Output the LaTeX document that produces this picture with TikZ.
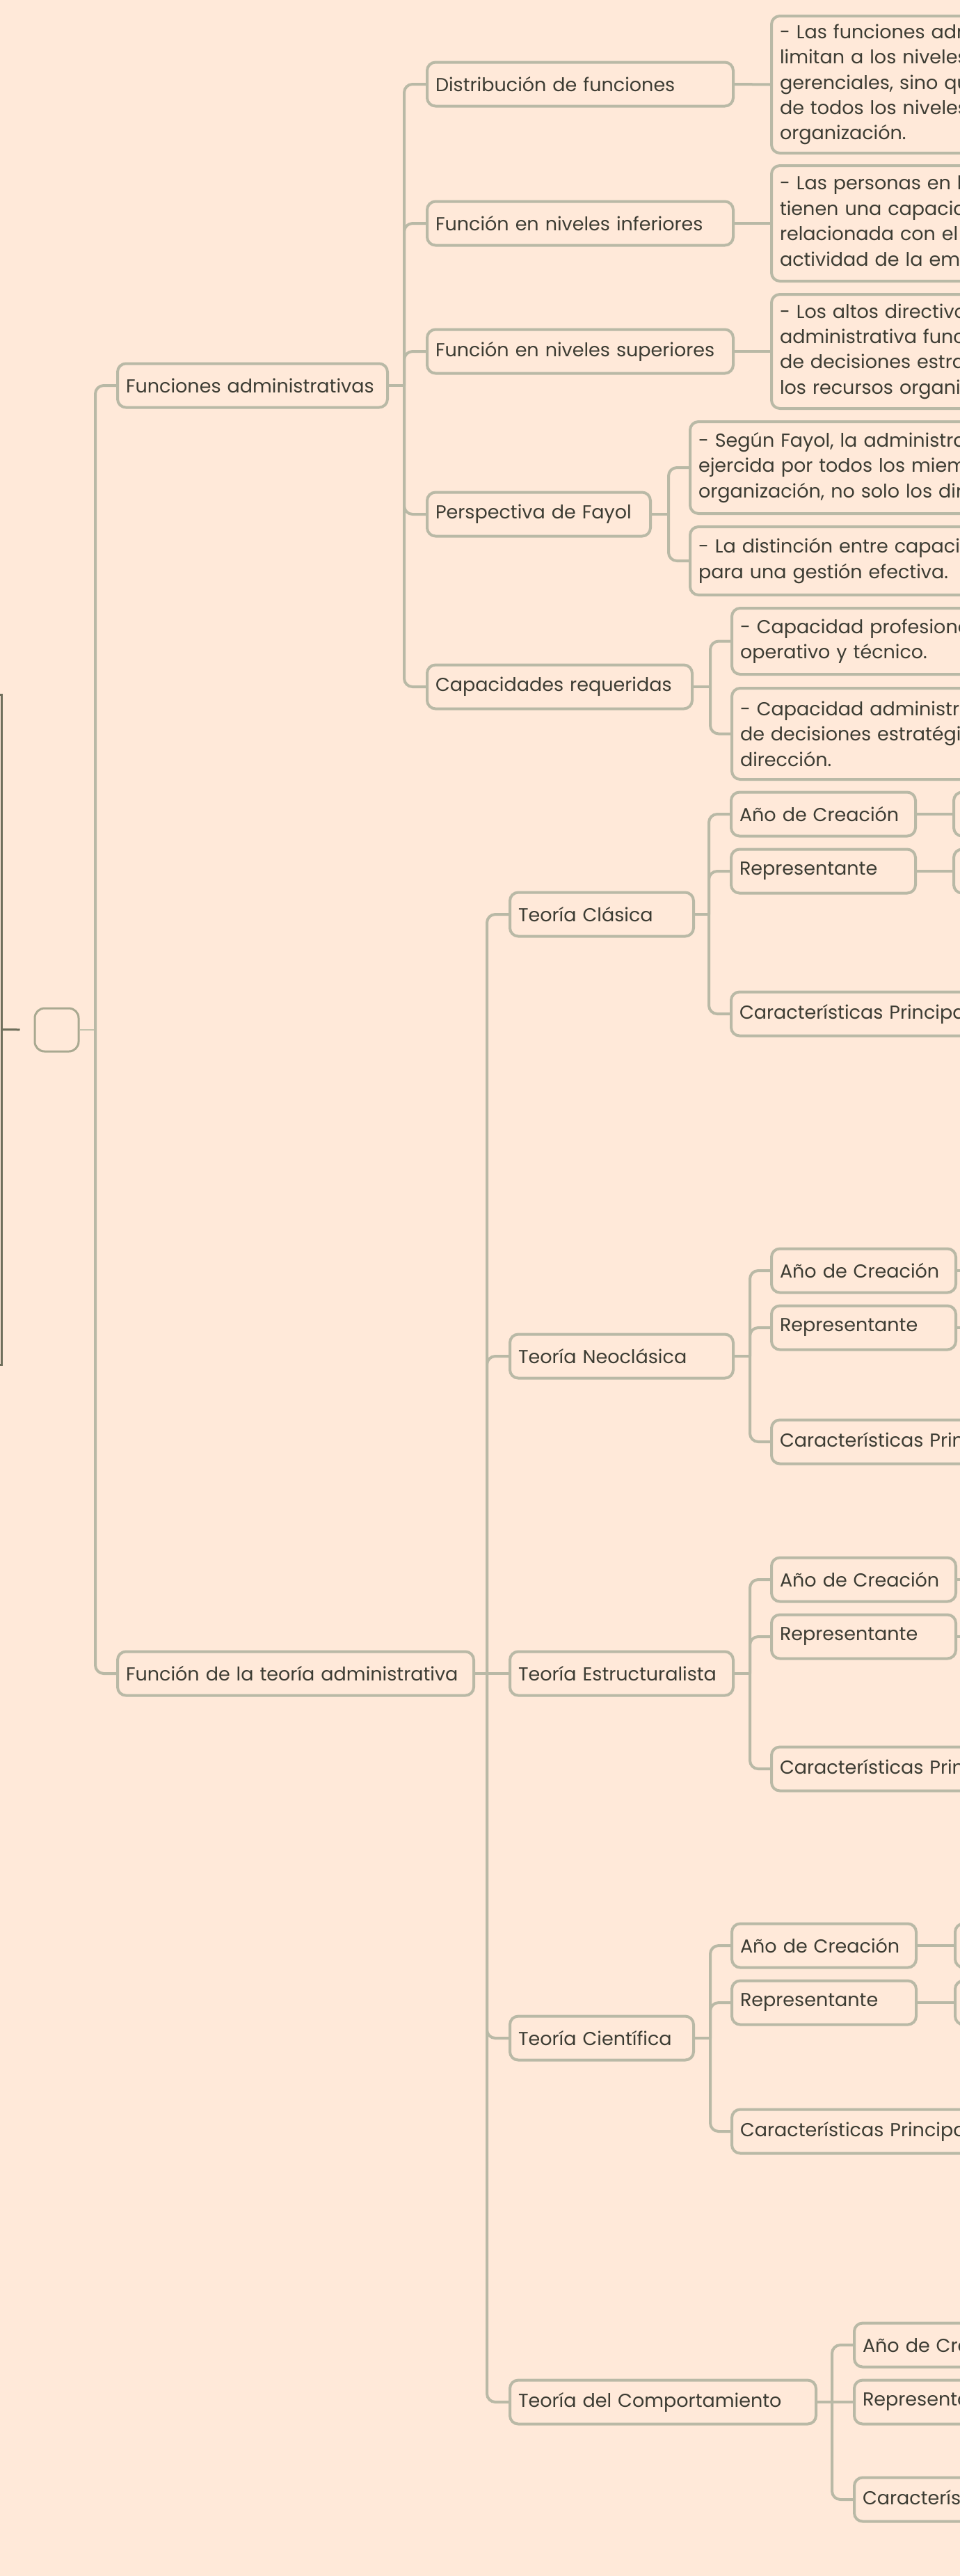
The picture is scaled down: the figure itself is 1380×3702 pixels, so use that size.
\documentclass[tikz,border=0pt]{standalone}
\usepackage{fontspec}
\setmainfont{Poppins}
\usepackage{tikz}
\usetikzlibrary{positioning}
\usepackage{xcolor}
\definecolor{bgpeach}{HTML}{FFE9D9}
\definecolor{linegray}{HTML}{B9B9A6}
\definecolor{rootgray}{HTML}{A9A991}
\definecolor{thingray}{HTML}{C4C4AE}
\definecolor{framedark}{HTML}{6F6F5C}
\definecolor{inkdark}{HTML}{3C3C33}

\tikzset{
  box/.style={draw=linegray, line width=4pt, rounded corners=12pt, fill=bgpeach, text=inkdark,
    anchor=west, align=left, inner xsep=12pt, inner ysep=0pt, font=\fontsize{27}{36.4}\selectfont,
    execute at begin node={\hyphenpenalty=10000\exhyphenpenalty=10000}},
  topic/.style={box, text width=#1, minimum height=63pt},
  note/.style={box, text width=600pt, minimum height=#1},
  conn/.style={draw=linegray, line width=4pt, rounded corners=12pt},
}

\begin{document}
\begin{tikzpicture}[x=1pt,y=-1pt]
    \fill[bgpeach] (0,0) rectangle (1380,3702);
    \useasboundingbox (0,0) rectangle (1380,3702);

    % left frame and central topic
    \node[draw=framedark, line width=3pt, minimum width=300pt, minimum height=963pt, anchor=east] (frame) at (3.5,1479.5) {};
    \node[draw=rootgray, line width=3pt, rounded corners=14pt, fill=bgpeach, minimum width=63pt, minimum height=62pt] (root) at (81.5,1480) {};
    \draw[framedark, line width=3pt, shorten >=20pt] (frame.east) -- (root.west);

    % main branches
    \node[topic=364pt] (fadmin) at (167,554) {Funciones administrativas};
    \node[topic=488pt] (fteoria) at (167,2405) {Función de la teoría administrativa};

    \coordinate (jRoot) at (137,1480);
    \draw[thingray, line width=2.5pt] (root.east) -- (jRoot);
    \draw[conn] (jRoot) |- (fadmin.west);
    \draw[conn] (jRoot) |- (fteoria.west);

    % Funciones administrativas
    \node[topic=416pt] (dist) at (612,121) {Distribución de funciones};
    \node[topic=416pt] (finf) at (612,321) {Función en niveles inferiores};
    \node[topic=416pt] (fsup) at (612,505) {Función en niveles superiores};
    \node[topic=297pt] (fayol) at (612,739) {Perspectiva de Fayol};
    \node[topic=357pt] (capreq) at (612,987) {Capacidades requeridas};

    \coordinate (jFA) at (581,554);
    \draw[conn] (fadmin.east) -- (jFA);
    \draw[conn] (jFA) |- (dist.west);
    \draw[conn] (jFA) |- (finf.west);
    \draw[conn] (jFA) |- (fsup.west);
    \draw[conn] (jFA) |- (fayol.west);
    \draw[conn] (jFA) |- (capreq.west);

    \node[note=197pt] (ndist) at (1107,121.5) {- Las funciones adm\\limitan a los niveles\\gerenciales, sino qu\\de todos los niveles\\organización.};
    \node[note=166pt] (ninf) at (1107,321) {- Las personas en lo\\tienen una capacid\\relacionada con el\\actividad de la emp};
    \node[note=164pt] (nsup) at (1107,505) {- Los altos directivo\\administrativa func\\de decisiones estra\\los recursos organi};
    \draw[conn] (dist.east) -- (ndist.west);
    \draw[conn] (finf.east) -- (ninf.west);
    \draw[conn] (fsup.east) -- (nsup.west);

    \node[note=132pt] (fay1) at (990,672) {- Según Fayol, la administra\\ejercida por todos los miem\\organización, no solo los dir};
    \node[note=98pt] (fay2) at (990,806) {- La distinción entre capaci\\para una gestión efectiva.};
    \coordinate (jFay) at (961,739);
    \draw[conn] (fayol.east) -- (jFay);
    \draw[conn] (jFay) |- (fay1.west);
    \draw[conn] (jFay) |- (fay2.west);

    \node[note=95pt] (cap1) at (1050,921.5) {- Capacidad profesiona\\operativo y técnico.};
    \node[note=131pt] (cap2) at (1050,1054.5) {- Capacidad administra\\de decisiones estratégi\\dirección.};
    \coordinate (jCap) at (1021,987);
    \draw[conn] (capreq.east) -- (jCap);
    \draw[conn] (jCap) |- (cap1.west);
    \draw[conn] (jCap) |- (cap2.west);

    % Funcion de la teoria administrativa
    \node[topic=240pt] (tclas) at (731,1314) {Teoría Clásica};
    \node[topic=297pt] (tneo) at (731,1949) {Teoría Neoclásica};
    \node[topic=297pt] (testr) at (731,2405) {Teoría Estructuralista};
    \node[topic=240pt] (tcien) at (731,2929) {Teoría Científica};
    \node[topic=416pt] (tcomp) at (731,3452) {Teoría del Comportamiento};

    \coordinate (jFT) at (700,2405);
    \draw[conn] (fteoria.east) -- (testr.west);
    \draw[conn] (jFT) |- (tclas.west);
    \draw[conn] (jFT) |- (tneo.west);
    \draw[conn] (jFT) |- (tcien.west);
    \draw[conn] (jFT) |- (tcomp.west);

    % Teoria Clasica
    \node[topic=241pt] (clasano) at (1049,1170) {Año de Creación};
    \node[topic=241pt] (clasrep) at (1049,1252) {Representante};
    \node[topic=576pt] (clascar) at (1049,1457) {Características Principales};
    \node[topic=306pt] (clasanoval) at (1369,1170) {};
    \node[topic=306pt] (clasrepval) at (1369,1252) {};
    \coordinate (jClas) at (1019,1314);
    \draw[conn] (tclas.east) -- (jClas);
    \draw[conn] (jClas) |- (clasano.west);
    \draw[conn] (jClas) |- (clasrep.west);
    \draw[conn] (jClas) |- (clascar.west);
    \draw[conn] (clasano.east) -- (clasanoval.west);
    \draw[conn] (clasrep.east) -- (clasrepval.west);

    % Teoria Neoclasica
    \node[topic=241pt] (neoano) at (1107,1826) {Año de Creación};
    \node[topic=241pt] (neorep) at (1107,1908) {Representante};
    \node[topic=576pt] (neocar) at (1107,2072) {Características Principales};
    \coordinate (jNeo) at (1078,1949);
    \coordinate (neoanoout) at (1400,1826);
    \coordinate (neorepout) at (1400,1908);
    \draw[conn] (tneo.east) -- (jNeo);
    \draw[conn] (jNeo) |- (neoano.west);
    \draw[conn] (jNeo) |- (neorep.west);
    \draw[conn] (jNeo) |- (neocar.west);
    \draw[conn] (neoano.east) -- (neoanoout);
    \draw[conn] (neorep.east) -- (neorepout);

    % Teoria Estructuralista
    \node[topic=241pt] (estrano) at (1107,2270) {Año de Creación};
    \node[topic=241pt] (estrrep) at (1107,2352) {Representante};
    \node[topic=576pt] (estrcar) at (1107,2542) {Características Principales};
    \coordinate (jEstr) at (1078,2405);
    \coordinate (estranoout) at (1400,2270);
    \coordinate (estrrepout) at (1400,2352);
    \draw[conn] (testr.east) -- (jEstr);
    \draw[conn] (jEstr) |- (estrano.west);
    \draw[conn] (jEstr) |- (estrrep.west);
    \draw[conn] (jEstr) |- (estrcar.west);
    \draw[conn] (estrano.east) -- (estranoout);
    \draw[conn] (estrrep.east) -- (estrrepout);

    % Teoria Cientifica
    \node[topic=241pt] (cienano) at (1050,2796) {Año de Creación};
    \node[topic=241pt] (cienrep) at (1050,2878) {Representante};
    \node[topic=576pt] (ciencar) at (1050,3063) {Características Principales};
    \node[topic=306pt] (cienanoval) at (1371,2796) {};
    \node[topic=306pt] (cienrepval) at (1371,2878) {};
    \coordinate (jCien) at (1021,2929);
    \draw[conn] (tcien.east) -- (jCien);
    \draw[conn] (jCien) |- (cienano.west);
    \draw[conn] (jCien) |- (cienrep.west);
    \draw[conn] (jCien) |- (ciencar.west);
    \draw[conn] (cienano.east) -- (cienanoval.west);
    \draw[conn] (cienrep.east) -- (cienrepval.west);

    % Teoria del Comportamiento
    \node[topic=241pt] (compano) at (1226,3370) {Año de Creación};
    \node[topic=241pt] (comprep) at (1226,3452) {Representante};
    \node[topic=576pt] (compcar) at (1226,3592) {Características Principales};
    \coordinate (jComp) at (1196,3452);
    \draw[conn] (tcomp.east) -- (comprep.west);
    \draw[conn] (jComp) |- (compano.west);
    \draw[conn] (jComp) |- (compcar.west);
\end{tikzpicture}
\end{document}
